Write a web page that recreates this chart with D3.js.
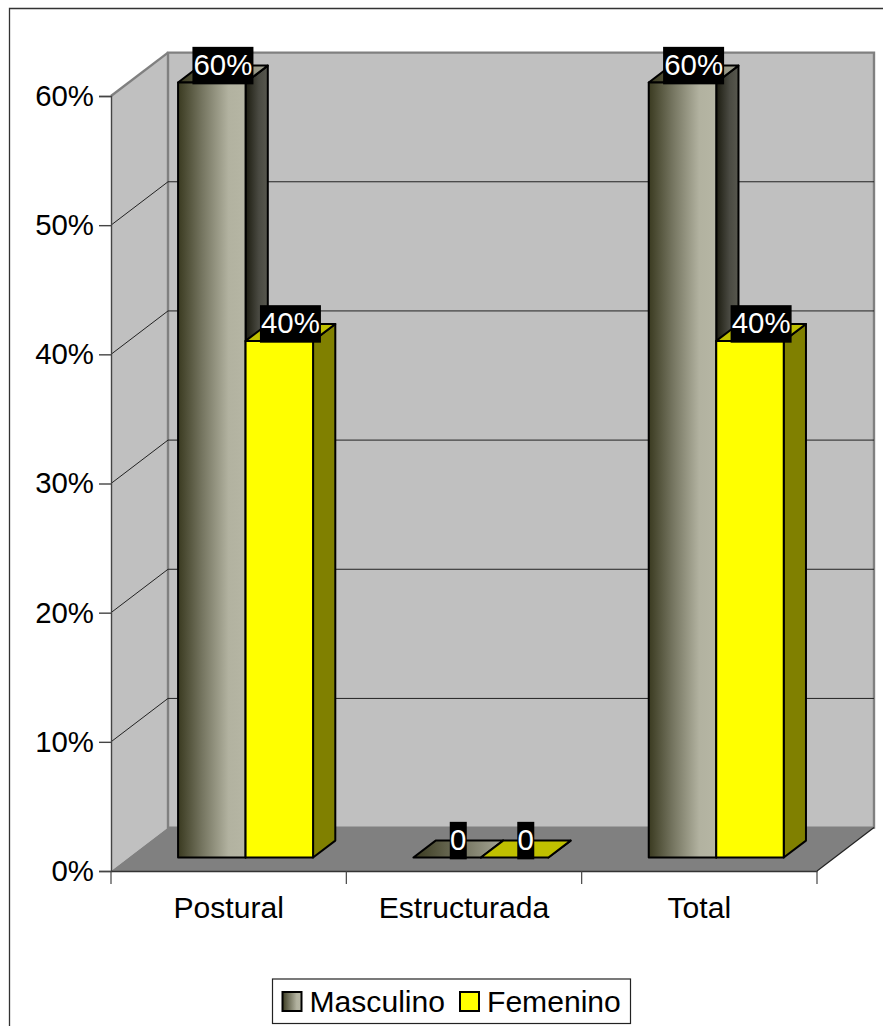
<!DOCTYPE html>
<html>
<head>
<meta charset="utf-8">
<style>
html,body{margin:0;padding:0;background:#fff}
svg{display:block}
text{font-family:"Liberation Sans",Arial,sans-serif}
</style>
<script src="https://cdn.jsdelivr.net/npm/d3@7/dist/d3.min.js"></script>
</head>
<body>
<svg id="chart" width="883" height="1026"></svg>
<script>
const categories = ["Postural", "Estructurada", "Total"];
const seriesNames = ["Masculino", "Femenino"];
const masculino = [60, 0, 60];
const femenino = [40, 0, 40];
const masculinoLabels = ["60%", "0", "60%"];
const femeninoLabels = ["40%", "0", "40%"];
const yTicks = [0, 10, 20, 30, 40, 50, 60];

const svg = d3.select("#chart");
const fontSize = 30.1;
const tickFontSize = 29.4;

// Oblique projection: depth runs from the front plane (0) to the back wall (1)
const depthX = 57, depthY = 43.4;
const y = d3.scaleLinear().domain([0, 60]).range([871, 96]);
const x0 = d3.scaleBand().domain(categories).range([111, 817]);
const x1 = d3.scaleBand().domain(seriesNames).range([49.4, 184.4]);
const barDepth = [0.31, 0.70];
const pt = (px, v, z) => [px + z * depthX, y(v) - z * depthY];
const poly = pts => pts.map(p => p.join(",")).join(" ");

// Gradients for the Masculino faces
const defs = svg.append("defs");
function gradient(id, stops) {
  const g = defs.append("linearGradient").attr("id", id)
    .attr("x1", 0).attr("x2", 1).attr("y1", 0).attr("y2", 0);
  stops.forEach(([o, c]) => g.append("stop").attr("offset", o).attr("stop-color", c));
}
gradient("mascFront", [[0, "#3a3a20"], [0.35, "#74745f"], [0.75, "#b2b2a0"], [1, "#b6b6a4"]]);
gradient("mascSide", [[0, "#1c1c10"], [0.6, "#4a4a42"], [1, "#58584f"]]);
gradient("mascTop", [[0, "#3a3a20"], [1, "#a6a696"]]);

// Chart frame, open past the right and bottom of the page
svg.append("path").attr("d", "M9.5,1030V8.5H890")
  .attr("fill", "none").attr("stroke", "#333").attr("stroke-width", 1.3);

// Walls and floor
const yMin = y.domain()[0], yMax = y.domain()[1];
const [xL, xR] = x0.range();
svg.append("polygon")
  .attr("points", poly([pt(xL, yMin, 0), pt(xL, yMax, 0), pt(xL, yMax, 1), pt(xL, yMin, 1)]))
  .attr("fill", "#c0c0c0");
svg.append("polygon")
  .attr("points", poly([pt(xL, yMin, 1), pt(xL, yMax, 1), pt(xR, yMax, 1), pt(xR, yMin, 1)]))
  .attr("fill", "#c0c0c0").attr("stroke", "#808080").attr("stroke-width", 2.4);
svg.append("polygon")
  .attr("points", poly([pt(xL, yMin, 0), pt(xL, yMin, 1), pt(xR, yMin, 1), pt(xR, yMin, 0)]))
  .attr("fill", "#808080");
svg.append("line")
  .attr("x1", pt(xL, yMax, 0)[0]).attr("y1", pt(xL, yMax, 0)[1])
  .attr("x2", pt(xL, yMax, 1)[0]).attr("y2", pt(xL, yMax, 1)[1])
  .attr("stroke", "#808080").attr("stroke-width", 2.4);
svg.append("line")
  .attr("x1", pt(xR, yMin, 0)[0]).attr("y1", pt(xR, yMin, 0)[1])
  .attr("x2", pt(xR, yMin, 1)[0]).attr("y2", pt(xR, yMin, 1)[1])
  .attr("stroke", "#222").attr("stroke-width", 1.2);

// Gridlines across the back wall and down the side wall
const grid = yTicks.filter(t => t > yMin && t < yMax);
svg.append("g").selectAll("polyline").data(grid).join("polyline")
  .attr("points", t => poly([pt(xL, t, 0), pt(xL, t, 1), pt(xR, t, 1)]))
  .attr("fill", "none").attr("stroke", "#222").attr("stroke-width", 1);

// Value axis
const yAxis = svg.append("g").attr("transform", `translate(${xL},0)`)
  .call(d3.axisLeft(y).tickValues(yTicks).tickFormat(d => d + "%").tickSize(12).tickPadding(5));
yAxis.selectAll("text").attr("font-size", tickFontSize).attr("fill", "#000").attr("font-family", null);
yAxis.selectAll("line, path").attr("stroke", "#444").attr("stroke-width", 1.4);

// Category axis: labels centred on each band, ticks on the band edges
const xAxis = svg.append("g").attr("transform", `translate(0,${y(0)})`)
  .call(d3.axisBottom(x0).tickSize(0).tickPadding(26));
xAxis.selectAll("text").attr("font-size", fontSize).attr("fill", "#000").attr("font-family", null);
xAxis.select("path").attr("stroke", "#333").attr("stroke-width", 1.6);
xAxis.selectAll("line.edge").data([...categories.map(c => x0(c)), xR]).join("line")
  .attr("class", "edge").attr("x1", d => d).attr("x2", d => d)
  .attr("y1", 0).attr("y2", 13).attr("stroke", "#444").attr("stroke-width", 1.2);

// One cuboid per value
const seriesStyle = [
  { values: masculino, labels: masculinoLabels, front: "url(#mascFront)", side: "url(#mascSide)", top: "url(#mascTop)" },
  { values: femenino, labels: femeninoLabels, front: "#ffff00", side: "#808000", top: "#c0c000" }
];
const bars = svg.append("g").attr("stroke", "#000").attr("stroke-width", 2).attr("stroke-linejoin", "round");
const [z1, z2] = barDepth;
categories.forEach((cat, c) => {
  seriesNames.forEach((name, s) => {
    const st = seriesStyle[s], v = st.values[c];
    const a = x0(cat) + x1(name), b = a + x1.bandwidth();
    bars.append("polygon").attr("fill", st.side)
      .attr("points", poly([pt(b, 0, z1), pt(b, v, z1), pt(b, v, z2), pt(b, 0, z2)]));
    bars.append("polygon").attr("fill", st.top)
      .attr("points", poly([pt(a, v, z1), pt(a, v, z2), pt(b, v, z2), pt(b, v, z1)]));
    if (v > 0) {
      bars.append("polygon").attr("fill", st.front)
        .attr("points", poly([pt(a, 0, z1), pt(a, v, z1), pt(b, v, z1), pt(b, 0, z1)]));
    }
  });
});

// Value labels: white on a black plate, sitting on the front top edge
const plateH = 37.5;
categories.forEach((cat, c) => {
  seriesNames.forEach((name, s) => {
    const st = seriesStyle[s], v = st.values[c], label = st.labels[c];
    const a = x0(cat) + x1(name);
    const cx = a + x1.bandwidth() / 2 + (z1 + z2) / 2 * depthX;
    const base = pt(a, v, z1)[1] + 1.8;
    const w = label.length > 1 ? 61 : 17;
    svg.append("rect").attr("x", cx - w / 2).attr("y", base - plateH)
      .attr("width", w).attr("height", plateH).attr("fill", "#000");
    svg.append("text").attr("x", cx).attr("y", base - 9.3)
      .attr("text-anchor", "middle").attr("font-size", tickFontSize).attr("fill", "#fff").text(label);
  });
});

// Legend
const legend = svg.append("g");
legend.append("rect").attr("x", 272.5).attr("y", 979).attr("width", 358).attr("height", 44.5)
  .attr("fill", "#fff").attr("stroke", "#222").attr("stroke-width", 1.2);
const legendX = d3.scaleOrdinal().domain(seriesNames).range([282.5, 460]);
seriesNames.forEach((name, s) => {
  legend.append("rect").attr("x", legendX(name)).attr("y", 992).attr("width", 19).attr("height", 19)
    .attr("fill", seriesStyle[s].front).attr("stroke", "#000").attr("stroke-width", 2);
  legend.append("text").attr("x", legendX(name) + 27).attr("y", 1012)
    .attr("font-size", fontSize).attr("fill", "#000").text(name);
});
</script>
</body>
</html>
